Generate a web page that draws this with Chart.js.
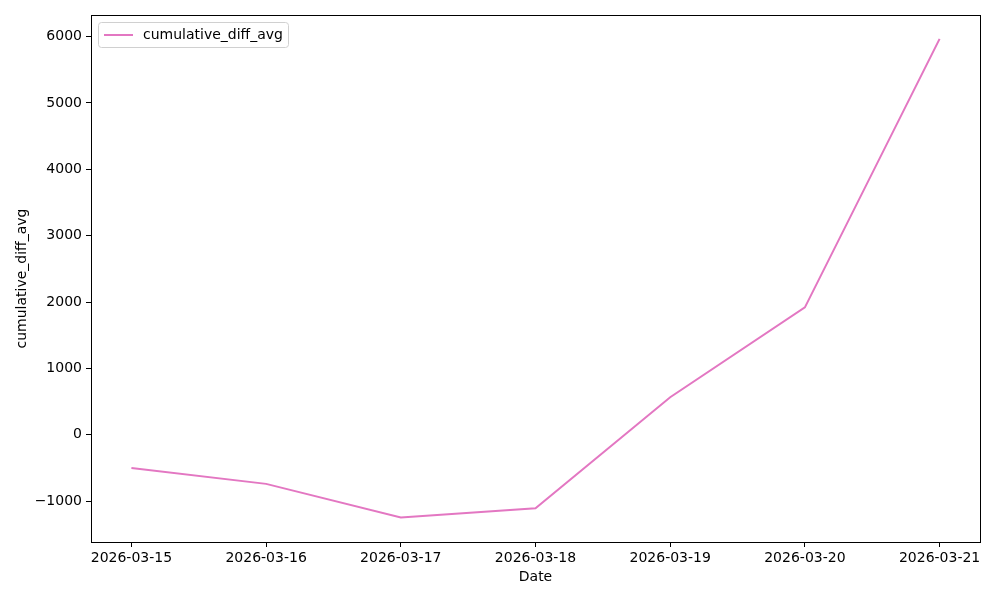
<!DOCTYPE html>
<html lang="en">
<head>
<meta charset="UTF-8">
<title>cumulative_diff_avg</title>
<script src="https://cdn.jsdelivr.net/npm/chart.js@4"></script>
<style>
  html, body { margin: 0; padding: 0; background: #fff; }
  #wrap { width: 1000px; height: 600px; }
</style>
</head>
<body>
<div id="wrap"><canvas id="chart" width="1000" height="600"></canvas></div>
<script>
// data
var dates = ['2026-03-15', '2026-03-16', '2026-03-17', '2026-03-18', '2026-03-19', '2026-03-20', '2026-03-21'];
var cumulativeDiffAvg = [-500, -740, -1247, -1106, 565, 1920, 5965];
var yTicks = [-1000, 0, 1000, 2000, 3000, 4000, 5000, 6000];

var lineColor = '#e377c2';
var font = { family: 'DejaVu Sans', size: 14 };

var points = dates.map(function (d, i) { return { x: i, y: cumulativeDiffAvg[i] }; });

// draws the full box and the in-plot legend like matplotlib
var framePlugin = {
  id: 'frame',
  afterDraw: function (chart) {
    var ctx = chart.ctx, a = chart.chartArea;
    ctx.save();
    ctx.strokeStyle = '#000';
    ctx.lineWidth = 1;
    ctx.strokeRect(Math.round(a.left) + 0.5, Math.round(a.top) + 0.5,
      Math.round(a.right - a.left), Math.round(a.bottom - a.top));

    var ds = chart.data.datasets[0];
    ctx.font = '14px "DejaVu Sans"';
    var tw = ctx.measureText(ds.label).width;
    var bx = a.left + 7, by = a.top + 7, bw = tw + 50, bh = 25;
    ctx.fillStyle = 'rgba(255,255,255,0.8)';
    ctx.strokeStyle = '#d0d0d0';
    ctx.beginPath();
    if (ctx.roundRect) ctx.roundRect(bx + 0.5, by + 0.5, bw, bh, 3); else ctx.rect(bx + 0.5, by + 0.5, bw, bh);
    ctx.fill();
    ctx.stroke();
    ctx.strokeStyle = ds.borderColor;
    ctx.lineWidth = 2;
    ctx.beginPath();
    ctx.moveTo(bx + 6, by + 13);
    ctx.lineTo(bx + 35, by + 13);
    ctx.stroke();
    ctx.fillStyle = '#000';
    ctx.textBaseline = 'middle';
    ctx.fillText(ds.label, bx + 45, by + 13);
    ctx.restore();
  }
};

new Chart(document.getElementById('chart'), {
  type: 'line',
  data: {
    datasets: [{
      label: 'cumulative_diff_avg',
      data: points,
      borderColor: lineColor,
      backgroundColor: lineColor,
      borderWidth: 2,
      pointRadius: 0,
      tension: 0
    }]
  },
  options: {
    responsive: false,
    animation: false,
    layout: { padding: { top: 15, right: 20, left: 0, bottom: 0 } },
    plugins: { legend: { display: false }, tooltip: { enabled: false } },
    scales: {
      x: {
        type: 'linear',
        min: -0.3,
        max: 6.3,
        afterBuildTicks: function (scale) {
          scale.ticks = dates.map(function (d, i) { return { value: i }; });
        },
        afterFit: function (scale) { scale.height = 58; },
        ticks: {
          color: '#000',
          font: font,
          padding: 3,
          maxRotation: 0,
          autoSkip: false,
          callback: function (v) { return dates[v]; }
        },
        grid: { drawOnChartArea: false, tickLength: 5, color: '#000' },
        border: { color: '#000' },
        title: { display: true, text: 'Date', color: '#000', font: font, padding: { top: 2, bottom: 14 } }
      },
      y: {
        min: -1616,
        max: 6325,
        afterBuildTicks: function (scale) {
          scale.ticks = yTicks.map(function (v) { return { value: v }; });
        },
        afterFit: function (scale) { scale.width = 91; },
        ticks: {
          color: '#000',
          font: font,
          padding: 4,
          callback: function (v) { return v < 0 ? '\u2212' + Math.abs(v) : String(v); }
        },
        grid: { drawOnChartArea: false, tickLength: 5, color: '#000' },
        border: { color: '#000' },
        title: { display: true, text: 'cumulative_diff_avg', color: '#000', font: font, padding: { top: 14, bottom: 4 } }
      }
    }
  },
  plugins: [framePlugin]
});
</script>
</body>
</html>
